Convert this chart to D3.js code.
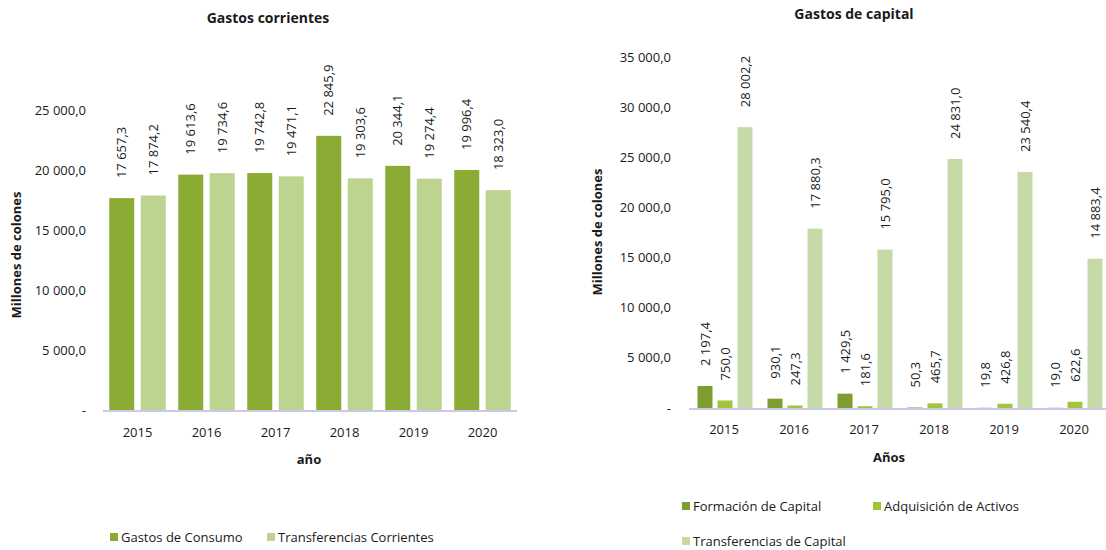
<!DOCTYPE html>
<html><head><meta charset="utf-8">
<script src="https://cdn.jsdelivr.net/npm/d3@7/dist/d3.min.js"></script>
<style>
body{margin:0;background:#fff;}
text{font-family:"Open Sans",sans-serif;fill:#1a1a1a;}
</style></head>
<body>
<svg id="c" width="1106" height="550"></svg>
<script>
const years = ["2015","2016","2017","2018","2019","2020"];
const gastosConsumo = [17657.3,19613.6,19742.8,22845.9,20344.1,19996.4];
const transfCorrientes = [17874.2,19734.6,19471.1,19303.6,19274.4,18323.0];
const formacionCapital = [2197.4,930.1,1429.5,50.3,19.8,19.0];
const adquisicionActivos = [750.0,247.3,181.6,465.7,426.8,622.6];
const transfCapital = [28002.2,17880.3,15795.0,24831.0,23540.4,14883.4];
const leftTicks = [0,5000,10000,15000,20000,25000];
const rightTicks = [0,5000,10000,15000,20000,25000,30000,35000];

const svg = d3.select("#c");
const fmt = v => {
  if (v === 0) return "-";
  const s = v.toFixed(1).split(".");
  const int = s[0].replace(/\B(?=(\d{3})+(?!\d))/g, " ");
  return int + "," + s[1];
};

function drawChart(cfg){
  const g = svg.append("g");
  const x0 = d3.scaleBand().domain(years).range(cfg.xr).paddingInner(0).paddingOuter(0);
  const keys = cfg.series.map(s=>s.name);
  const x1 = d3.scaleBand().domain(keys).range(cfg.inner);
  const y = d3.scaleLinear().domain(cfg.yd).range(cfg.yr);

  g.selectAll(".yt").data(cfg.ticks).join("text")
    .attr("x", cfg.tickX).attr("y", d=>y(d)).attr("dy","0.35em")
    .attr("text-anchor","end").style("font-size","13px").text(fmt);

  cfg.series.forEach(s=>{
    const bw = cfg.barW;
    g.selectAll(null).data(years).join("rect")
      .attr("x", (d)=> x0(d) + x1(s.name) + (x1.bandwidth()-bw)/2)
      .attr("width", bw)
      .attr("y", (d,i)=> y(s.values[i]))
      .attr("height", (d,i)=> y(0)-y(s.values[i]))
      .attr("fill", s.color);
    g.selectAll(null).data(years).join("text")
      .attr("transform",(d,i)=>`translate(${x0(d)+x1(s.name)+x1.bandwidth()/2},${y(s.values[i])-cfg.labelGap}) rotate(-90)`)
      .attr("dy","0.35em").attr("text-anchor","start")
      .style("font-size","13px")
      .text((d,i)=>fmt(s.values[i]));
  });

  g.append("line").attr("x1",cfg.xr[0]).attr("x2",cfg.xr[1])
    .attr("y1",y(0)+1).attr("y2",y(0)+1)
    .attr("stroke","#c9c9e9").attr("stroke-width",2);

  g.selectAll(".xl").data(years).join("text")
    .attr("x", d=>x0(d)+x0.bandwidth()/2).attr("y", cfg.yearY).attr("dy","0.35em")
    .attr("text-anchor","middle").style("font-size","13px").text(d=>d);

  g.append("text").attr("x",cfg.titleX).attr("y",cfg.titleY).attr("dy","0.35em")
    .attr("text-anchor","middle").style("font-size","14px").style("font-weight","bold").text(cfg.title);
  g.append("text").attr("x",cfg.xTitleX).attr("y",cfg.xTitleY).attr("dy","0.35em")
    .attr("text-anchor","middle").style("font-size","13px").style("font-weight","bold").text(cfg.xTitle);
  g.append("text").attr("transform",`translate(${cfg.yTitleX},${cfg.yTitleY}) rotate(-90)`).attr("dy","0.35em")
    .attr("text-anchor","middle").style("font-size","13px").style("font-weight","bold").text("Millones de colones");

  cfg.legend.forEach((l,i)=>{
    const s = cfg.series[i];
    g.append("rect").attr("x",l[0]).attr("y",l[1]-4).attr("width",8).attr("height",8).attr("fill",s.color);
    g.append("text").attr("x",l[0]+11).attr("y",l[1]).attr("dy","0.35em")
      .style("font-size","13px").text(s.name);
  });
}

drawChart({
  xr:[103,517], inner:[3,69-3], barW:25, yd:[0,25000], yr:[410,110],
  ticks:leftTicks, tickX:86, labelGap:20, yearY:432,
  title:"Gastos corrientes", titleX:268, titleY:18,
  xTitle:"año", xTitleX:309, xTitleY:459, yTitleX:16, yTitleY:255,
  series:[
    {name:"Gastos de Consumo", values:gastosConsumo, color:"#8bac34"},
    {name:"Transferencias Corrientes", values:transfCorrientes, color:"#bcd48f"}
  ],
  legend:[[110,537],[267,537]]
});

drawChart({
  xr:[689,1109], inner:[6,66], barW:15, yd:[0,35000], yr:[408,57],
  ticks:rightTicks, tickX:671, labelGap:20, yearY:429,
  title:"Gastos de capital", titleX:854, titleY:14,
  xTitle:"Años", xTitleX:889, xTitleY:457, yTitleX:597, yTitleY:232,
  series:[
    {name:"Formación de Capital", values:formacionCapital, color:"#7e9d2f"},
    {name:"Adquisición de Activos", values:adquisicionActivos, color:"#a2c53c"},
    {name:"Transferencias de Capital", values:transfCapital, color:"#c6daa8"}
  ],
  legend:[[682,506],[873,506],[682,541]]
});
</script>
</body></html>
